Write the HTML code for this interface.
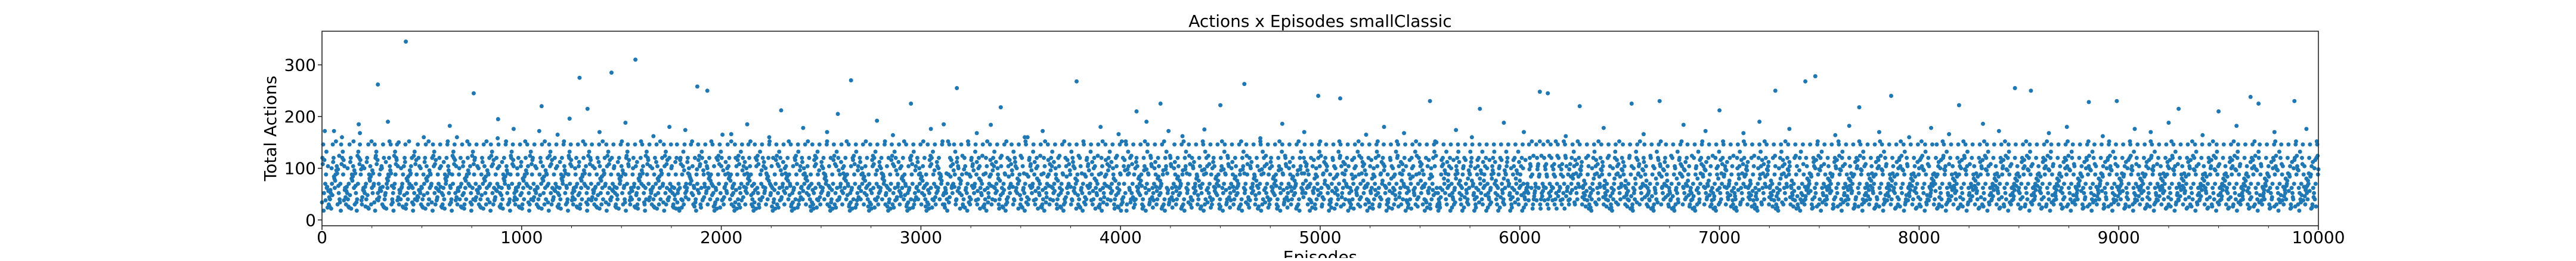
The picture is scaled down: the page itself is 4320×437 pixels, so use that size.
<!DOCTYPE html>
<html><head><meta charset="utf-8"><style>
html,body{margin:0;padding:0;background:#fff;}
body{width:4320px;height:432px;overflow:hidden;}
text{font-family:"DejaVu Sans","Liberation Sans",sans-serif;fill:#000;}
</style></head><body>
<svg id="chart" width="4320" height="432" xmlns="http://www.w3.org/2000/svg">
<text x="2214" y="45" font-size="28" text-anchor="middle">Actions x Episodes smallClassic</text>
<g id="plot"></g>
<g id="axes"></g>
<text x="0" y="0" font-size="28" text-anchor="middle" transform="translate(463,215) rotate(-90)">Total Actions</text>
<text x="2214" y="440" font-size="28" text-anchor="middle">Episodes</text>
</svg>
<script>
const xTicks=[0,1000,2000,3000,4000,5000,6000,7000,8000,9000,10000];
const yTicks=[0,100,200,300];
const episodeStep=2;
// codebook: each character of actionCodes stands for an actions value
const codeKeys="0123456789abcdefghijklmnopqrstuvwxyzABCDEFGH";
const codeValues=[14,88,52,120,30,70,104,40,146,62,24,96,58,112,18,80,44,132,66,100,34,76,116,48,90,26,108,56,152,38,84,124,64,22,98,46,160,172,185,150,195,165,178,205];
const actionCodes=[
"k3q8e2mB5t1h9wa6r4gp7c2xj5n8d3uf9l1sb6o4yi2v7k5e8qA3h1mt6c9g4rw2j7p5a8nd3xf1lu6s9b4oi2ke7v5hC3q8m1yt4g6c9rj2wp5",
"7d3na8x1fl6u4s9b2oi5k8e3vhq7m2t5g1c9yr6j4w8p3a7n2dx5f9l1u3s6b8o4i7k2e9v5h1q3m8t6gD4c2r7j9w5p1a6n3d8x4f2l7u9s5b1",
"o6i3k9e4v2h7q5m1tz8g3c6r2j4w9p7a1n5d3x8f6l2u4s7b9o1i5k3e8v6h2q4m9t7g1c5r3j8w6p2a4n9d7x1f5l3u8s6b2o4i9k7e1v5h3q8",
"m2t6gA4c9r1j7w3p5a8n6d2x4f9l7u1s3b5o8i6k2e4v9h7q1m3t5g8c6r2j4w9p7a1n3d5x8f6l2u4s9b7o1i3k5e8v6h2q4m9t7g1c3r5jE8w",
"6p2a4n9d7x1f3l5u8s6b2o4i9k7e1v3h5q8m6t2g4c9r7j1w3p5a8n6d2x4f9l7u1s3b5o8i6k2e4v9h7q1m3t5g8c6r2j4w9p7aB1n3d5x8f6l",
"2u4s9b7o1i3k5e8v6h2q4m9t7g1c3r5j8w6p2a4n9d7x1f3l5u8s6b2o4i9k7e1v3h5q8m6t2g4c9r7j1w3p5a8n6d2x4f9l7u1s3b5o8i6k2e4",
"9v7h1q3m5t8g6c2r4j9w7p1a3n5d8x6f2l4u9s7b1o3i5k8e6v2h4q9m7t1g3c5r8j6w2p4a9n7d1x3f5l8u6s2b4o9i7k1e3v5h8q6m2t4g9c7r",
"1j3w5p8a6n2d4x9f7l1u3s5b8o6i2k4e9v7h1q3m5t8g6c2r4j9w7p1a3n5d8x6f2l4u9s7b1o3i5k8e6v2h4q9m7t1g3c5r8j6w2p4a9n7d1x3",
"8k2c5xe9m3q7a1t6h4b8w2g5r9d3o7j1u5f8l2s6n4i9p3k7e1y5c8m2v6q4a9h3t7b1g5w8d2r6j4o9f3u7l1s5n8i2p6e4k9c3x7m1v5q8a2h6",
"3tF7b4g9w1d5r2j8o6f3u7l1s4n9i2p5e8k3c6x1m7v4q9a2h5t8b3g6w1d4r9j2o5f8u3l6s1n4i7p2e5k8c3x6m9v2q4a7h1t5b8g3w6d2r9j4",
"o1f7u3l8s5n2i6p9e3k7c1x5m8v4q2a6h9t3b7g1w5d8r4j2o6f9u3l7s1n5i8p4e2k6c9x3m7v1q5a8h4t2b6g9w3d7r1j5o8f4u2l6s9n3i7p1",
"e5k8c4x2m6v9q3a7h1t5b8g4w2d6r9j3o7f1u5l8s4n2i6p9e3k7c1x5m8v4q2a6h9tH3b7g1w5d8r4j2o6f9u3l7s1n5i8p4e2k6c9x3m7v1q5a",
"8h4t2b6g9w3d7r1j5o8f4u2l6s9n3i7p1e5k8c4x2m6v9q3a7h1t5b8g4w2d6r9j3o7f1u5l8s4n2i6p9e3k7c1x5m8v4q2a6h9t3b7g1w5d8r4",
"j2z6f9u3l7s1n5i8p4e2k6c9x3m7v1q5a8h4t2b6g9w3d7r1j5o8f4u2l6s9n3i7p1e5k8c4x2m6v9q3a7h1t5b8g4w2d6r9j3o7f1u5l8s4nC2",
"4a9c2o7e5s1k8g3u6m9i2q5b8w1h4t7d3r6j9f2x5l8n1v4p7y3a6c9o2e5s8k1g4u7m3i6q9b2w5h8t1d4r7j3f6x9l2n5v8p1a4c7o3e6s9k2g5",
"u8m1i4q7b3w6h9t2d5r8j1f4x7l3n6v9p2a5c8o1e4s7k3g6u9m2i5q8b1w4h7t3d6r9j2f5x8l1n4v7p3a6c9o2e5s8k1gA4u7m3i6q9b2w5h8t1",
"d4r7j3f6x9l2n5v8p1a4c7o3e6s9k2g5u8m1i4q7b3w6h9t2d5r8j1f4x7l3n6v9p2a5c8o1e4s7k3g6u9m2i5q8b1w4h7t3d6r9j2f5x8l1n4v7",
"p3a6c9o2e5s8k1g4u7m3i6q9b2w5h8t1d4r7j3f6x9l2n5v8p1a4c7o3e6s9k2g5u8m1i4q7b3w6h9t2d5r8j1f4x7l3n6v9p2a5c8o1e4s7k3g6",
"5mb2s8e4y1h6o9c3k7v2q5g8a1t4j7d3w6r9f2u5n8l1i4x7p3b6s9e2y5h8o1c4k7v3q6g9a2t5j8d1w4r7f3u6n9l2i5x8p1b4s7e3y6h9o2cB4",
"k7v3q6g9a2t5j8d1w4r7f3u6n9l2i5x8p1b4s7e3y6h9o2c5k8v1q4g7a3t6j9d2w5r8f1u4n7l3i6x9p2b5s8e1y4h7o3c6k9v2q5g8a1t4j7d3",
"w6r9f2u5n8l1i4x7p3b6s9e2y5h8o1c4k7v3q6g9a2t5j8d1w4r7f3u6n9l2i5x8p1b4s7e3y6h9o2c5k8v1q4g7a3t6j9d2w5r8f1u4n7l3i6x9",
"p2b5s8e1y4h7o3c6k9v2q5g8a1t4j7d3w6r9f2u5n8l1i4x7p3b6s9e2y5h8o1c4k7v3q6g9a2t5j8d1w4r7f3u6n9l2i5x8p1b4s7e3y6h9o2c5",
"g3o8d2l6q9b4i1w7e5t3k8a6r2m9f4x1j7u5c3n8h6s2v9p4g1o7d5l3q8b6i2w9e4t1k7a5r3m8f6x2j9u4c1n7h5s3v8p6g2o9d4l1q7b5i3w8e6",
"t2k9a4r1m7f5x3j8u6c2n9h4s1v7p5g3o8d6l2q9b4i1w7e5t3k8a6r2m9f4x1j7u5c3n8h6s2v9p4g1o7d5l3q8b6i2w9e4t1k7a5r3m8f6x2j9",
"u4c1n7h5s3v8p6g2o9d4l1q7b5i3w8e6t2k9a4r1m7f5x3j8u6c2n9h4s1v7p5g3o8d6l2q9b4i1w7e5t3k8a6r2m9f4x1j7u5c3n8h6s2vD9p4",
"2e7k4a9g1m6c3q8f5b2o7h4d9l1i6n3e8j5a2g7m4c9k1f6b3o8h5d2l7i4n9e1j6a3g8m5c2k7f4b9o1h6d3l8i5n2e7j4a9g1m6c3k8f5b2o7",
"h4d9l1i6n3e8j5a2g7m4c9k1f6b3o8h5d2l7i4n9e1j6a3g8m5c2k7f4b9o1h6d3l8i5n2e7j4a9g1m6c3k8f5b2o7h4d9l1i6n3e8j5a2g7m4c9",
"r5w2t8y3q6u9s1x4v7z2r5w8t3y6q9u1s4x7v2z5r8w3t6y9q1u4s7x2v5z8r3w6t9y1q4u7s2x5v8z3r6w9t1y4q7u2s5x8v3z6r9w1t4y7q2u5",
"3c8f1h6k4m9o2q7s5u3w8y1b6d4g9i2l7n5p3r8t1v6x4z9a2e7j5c3f8h1k6m4o9q2s7u5w3y8b1d6g4i9l2n7p5r3t8v1x6z4a9e2j7c5f3h8k1",
"m6o4q9s2u7w5y3b8d1g6i4l9n2p7r5t3v8x1z6a4e9j2c7f5h3k8m1o6q4s9u2w7y5b3d8g1i6l4n9p2r7t5v3x8z1a6e4j9c2f7h5k3m8o1q6s4u9",
"w2y7b5d3g8i1l6n4p9r2t7v5x3z8a1e6j4c9f2h7k5m3o8q1s6u4w9y2b7d5g3i8l1n6p4r9t2v7x5z3a8e1j6c4f9h2k7m5o3q8s1u6w4y9b2d7g5",
"i3l8n1p6r4t9v2x7z5a3e8j1c6f4h9k2m7o5q3s8u1w6y4b9d2g7i5l3n8p1r6t4v9x2z7a5e3j8c1f6h4k9m2o7q5s3u8w1y6b4d9g2i7l5n3p8r1",
"t6v4x9z2a7e5j3c8f1h6k4m9o2q7s5u3w8y1b6d4g9i2l7n5p3r8t1v6x4z9a2e7j5c3f8h1k6m4o9q2s7u5w3y8b1d6g4i9l2n7p5r3t8v1x6z4a9",
"9b3e7h2k5n8q1t4w7z3c6f9i2l5o8r1u4x7a3d6g9j2m5p8s1v4y7b3e6h9k2n5q8t1w4z7c3f6i9l2o5r8u1x4a7d3g6j9m2p5s8v1y4b7e3h6k9",
"n2q5t8w1z4c7f3i6l9o2r5u8x1a4d7g3j6m9p2s5v8y1b4e7h3k6n9q2t5w8z1c4f7i3l6o9r2u5x8a1d4g7j3m6p9s2v5y8b1e4h7k3n6q9t2w5z8",
"c1f4i7l3o6r9u2x5a8d1g4j7m3p6s9v2y5b8e1h4k7n3q6t9w2z5c8f1i4l7o3r6u9x2a5d8g1j4m7p3s6v9y2b5e8h1k4n7q3t6w9z2c5f8i1l4o7",
"5r3u8x1a6d4g9j2m7p5s3v8y1b6e4h9k2n7q5t3w8z1c6f4i9l2o7r5u3x8a1d6g4j9m2p7s5v3y8b1e6h4k9n2q7t5w3z8c1f6i4l9o2r7u5x3a8",
"d1g6j4m9p2s7v5y3b8e1h6k4n9q2t7w5z3c8f1i6l4o9r2u7x5a3d8g1j6m4p9s2v7y5b3e8h1k6n4q9t2w7z5c3f8i1l6o4r9u2x7a5d3g8j1m6p4",
"9s2v7y5b3e8h1k6n4q9t2w7z5c3f8i1l6o4r9u2x7a5d3g8j1m6p4s9v2y7b5e3h8k1n6q4t9w2z7c5f3i8l1o6r4u9x2a7d5g3j8m1p6s4v9y2b7",
"e5h3k8n1q6t4w9z2c7f5i3l8o1r6u4x9a2d7g5j3m8p1s6v4y9b2e7h5k3n8q1t6w4z9c2f7i5l3o8r1u6x4a9d2g7j5m3p8s1v6y4b9e2h7k5n3q8",
"t1w6z4c9f2i7l5o3r8u1x6a4d9g2j7m5p3s8v1y6b4e9h2k7n5q3t8w1z6c4f9i2l7o5r3u8x1a6d4g9j2m7p5s3v8y1b6e4h9k2n7q5t3w8z1c6f4",
"i9l2o7r5u3x8a1d6g4j9m2p7s5v3y8b1e6h4k9n2q7t5w3z8c1f6i4l9o2r7u5x3a8d1g6j4m9p2s7v5y3b8e1h6k4n9q2t7w5z3c8f1i6l4o9r2u7",
"x5a3d8g1j6m4p9s2v7y5b3e8h1k6n4q9t2w7z5c3f8i1l6o4r9u2x7a5d3g8j1m6p4s9v2y7b5e3h8k1n6q4t9w2z7c5f3i8l1o6r4u9x2a7d5g3j8",
"m1p6s4v9y2b7e5h3k8n1q6t4w9z2c7f5i3l8o1r6u4x9a2d7g5j3m8p1s6v4y9b2e7h5k3n8q1t6w4z9c2f7i5l3o8r1u6x4a9d2g7j5m3p8s1v6y4",
"b9e2h7k5n3q8t1w6z4c9f2i7l5o3r8u1x6a4d9g2j7m5p3s8v1y6b4e9h2k7n5q3t8w1z6c4f9i2l7o5r3u8x1a6d4g9j2m7p5s3v8y1b6e4h9k2n7",
"q5t3w8z1c6f4i9l2o7r5u3x8a1d6g4j9m2p7s5v3y8b1e6h4k9n2q7t5w3z8c1f6i4l9o2r7u5x3a8d1g6j4m9p2s7v5y3b8e1h6k4n9q2t7w5z3c8",
"f1i6l4o9r2u7x5a3d8g1j6m4p9s2v7y5b3e8h1k6n4q9t2w7z5c3f8i1l6o4r9u2x7a5d3g8j1m6p4s9v2y7b5e3h8k1n6q4t9w2z7c5f3i8l1o6r4",
"u9x2a7d5g3j8m1p6s4v9y2b7e5h3k8n1q6t4w9z2c7f5i3l8o1r6u4x9a2d7g5j3m8p1s6v4y9b2e7h5k3n8q1t6w4z9c2f7i5l3o8r1u6x4a9d2g7",
"j5m3p8s1v6y4b9e2h7k5n3q8t1w6z4c9f2i7l5o3r8u1x6a4d9g2j7m5p3s8v1y6b4e9h2k7n5q3t8w1z6c4f9i2l7o5r3u8x1a6d4g9j2m7p5s3v8"
].join("");
const outlierEpisodes=[420,1570,1450,1290,2650,3780,4620,4990,5550,6100,6140,7280,7430,7480,8480,8560,9660,280,760,1880,1930,3180,4200,5100,6700,7860,8990,9880,1100,1330,2300,2950,3400,4080,4500,5800,6300,6560,7000,7700,8200,8850,9300,9500,9700];
const outlierActions=[345,310,285,275,270,268,263,240,230,248,245,250,268,278,255,250,238,262,245,258,250,255,225,235,230,240,230,230,220,215,212,225,218,210,222,215,220,225,212,218,222,228,215,210,225];
const midEpisodes=[60,190,330,510,640,880,960,1180,1240,1390,1520,1660,1740,1820,2050,2130,2240,2410,2530,2780,2860,3050,3280,3350,3520,3610,3900,3990,4130,4310,4420,4700,4810,4920,5230,5320,5420,5680,5760,5920,6020,6230,6420,6620,6820,6930,7120,7200,7350,7580,7650,7800,7950,8060,8150,8320,8400,8650,8740,8920,9080,9160,9250,9420,9590,9780,9940];
const midActions=[172,168,190,160,182,158,176,165,196,170,188,162,180,174,166,185,160,178,170,192,164,176,168,184,160,172,180,166,190,162,175,158,186,170,165,180,168,174,160,188,170,162,178,166,184,172,168,190,176,164,182,170,160,178,166,186,172,168,180,162,176,170,188,164,182,170,176];

const X0=540,X1=3888,YT=52.3,YB=378,XMAX=10000,YMIN=-11.2,YMAX=365;
const xs=v=>X0+(v/XMAX)*(X1-X0);
const ys=v=>YB-(v-YMIN)/(YMAX-YMIN)*(YB-YT);
const NS="http://www.w3.org/2000/svg";
const plot=document.getElementById('plot');
const axes=document.getElementById('axes');
function decode(ch){const k=codeKeys.indexOf(ch);return k<0?60:codeValues[k];}
function dot(ep,val){
  const c=document.createElementNS(NS,'circle');
  c.setAttribute('cx',xs(ep).toFixed(1));c.setAttribute('cy',ys(val).toFixed(1));
  c.setAttribute('r','3.5');c.setAttribute('fill','#1f77b4');
  
  
  plot.appendChild(c);
}
for(let i=0;i<actionCodes.length;i++){
  const ep=i*episodeStep;if(ep>XMAX)break;
  dot(ep,decode(actionCodes[i]));
}
for(let i=0;i<outlierEpisodes.length;i++)dot(outlierEpisodes[i],outlierActions[i]);
for(let i=0;i<midEpisodes.length;i++)dot(midEpisodes[i],midActions[i]);
function el(tag,attrs){const e=document.createElementNS(NS,tag);for(const k in attrs)e.setAttribute(k,attrs[k]);return e;}
const frame=el('rect',{x:X0,y:YT,width:X1-X0,height:YB-YT,fill:'none',stroke:'#262626','stroke-width':1.6});


axes.appendChild(frame);
xTicks.forEach(t=>{
  const tk=el('line',{x1:xs(t),x2:xs(t),y1:YB,y2:YB+7,stroke:'#262626','stroke-width':1.6});
  
  
  axes.appendChild(tk);
  const lb=el('text',{x:xs(t),y:407,'font-size':28,'text-anchor':'middle'});lb.textContent=t;
  
  
  axes.appendChild(lb);
});
for(let m=250;m<XMAX;m+=250){if(m%1000===0)continue;
  const mt=el('line',{x1:xs(m),x2:xs(m),y1:YB,y2:YB+4,stroke:'#262626','stroke-width':1});
  
  
  axes.appendChild(mt);}
yTicks.forEach(t=>{
  const tk=el('line',{x1:X0-7,x2:X0,y1:ys(t),y2:ys(t),stroke:'#262626','stroke-width':1.6});
  
  
  axes.appendChild(tk);
  const lb=el('text',{x:530,y:ys(t)+10,'font-size':28,'text-anchor':'end'});lb.textContent=t;
  
  
  axes.appendChild(lb);
});
</script>
</body></html>
